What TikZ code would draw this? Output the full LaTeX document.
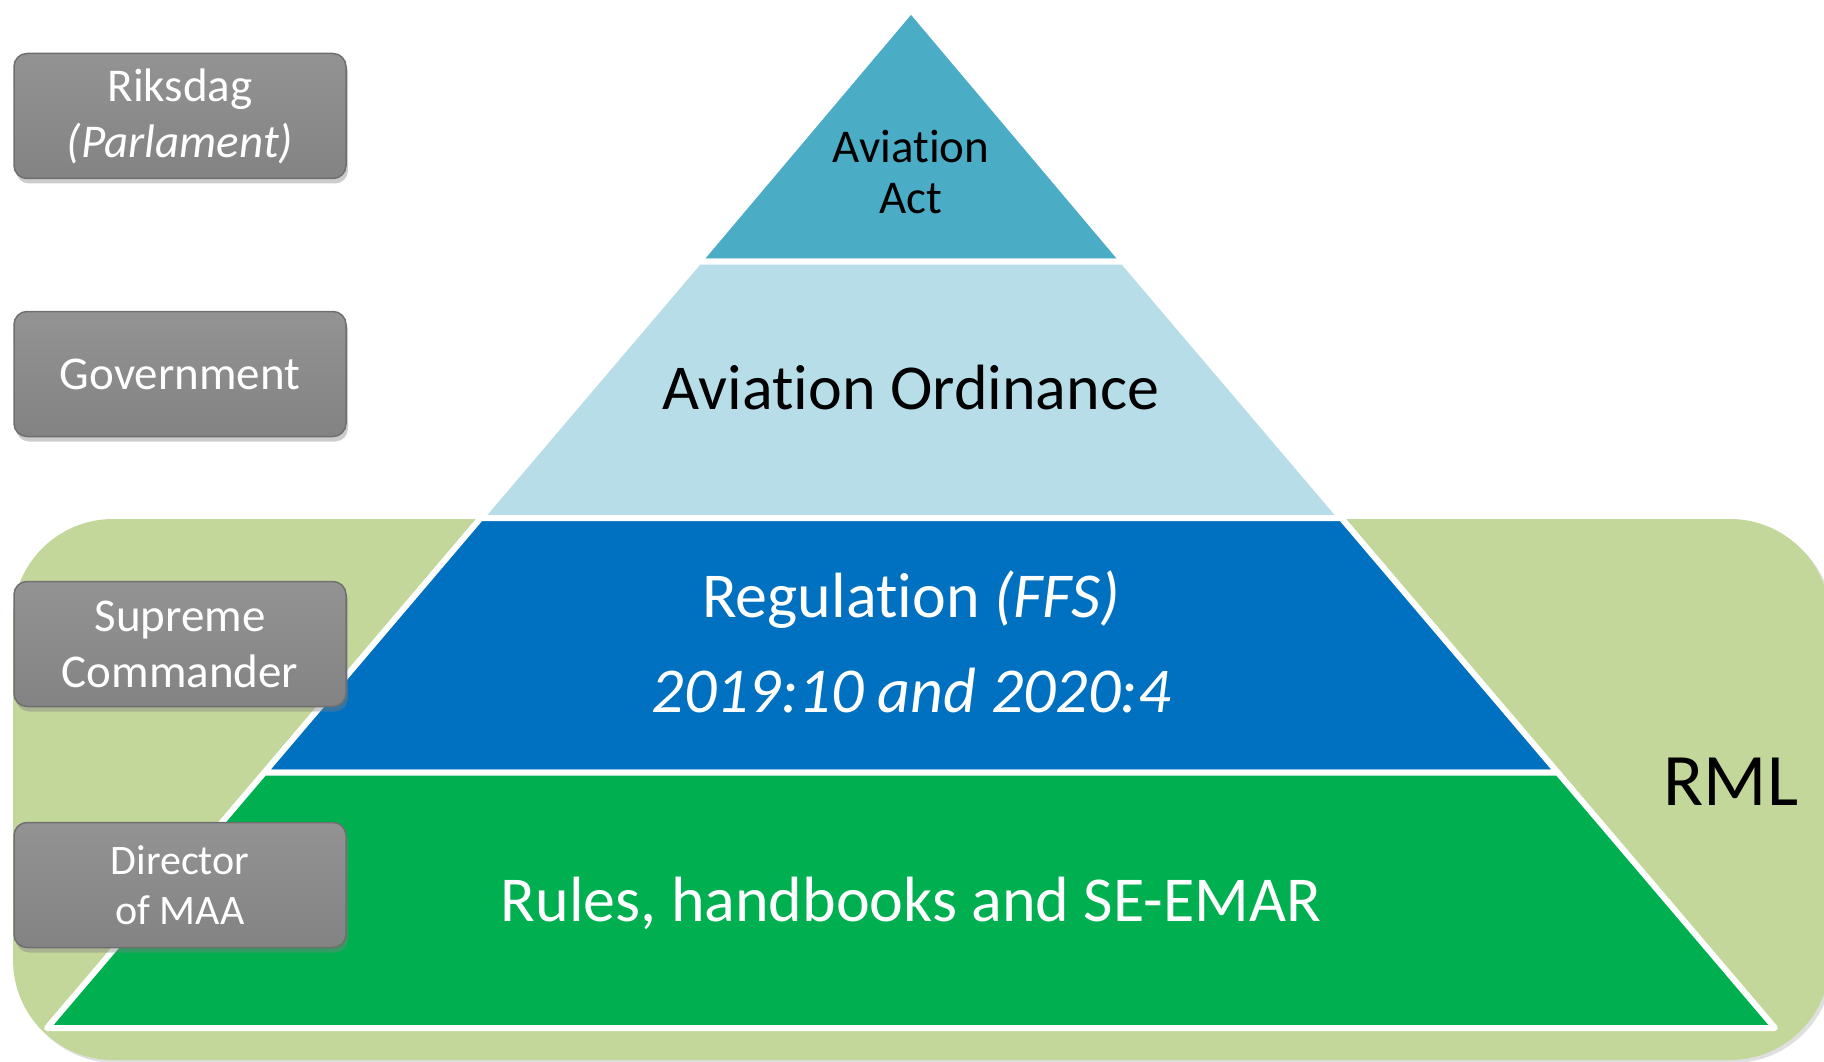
\documentclass[tikz,border=0pt]{standalone}
\usepackage{fontspec}
\setmainfont[Ligatures={NoCommon}]{Carlito}
\usetikzlibrary{shadows}
\definecolor{toptri}{HTML}{4BACC6}
\definecolor{ordin}{HTML}{B7DEE8}
\definecolor{regblue}{HTML}{0070C0}
\definecolor{rulgreen}{HTML}{00B050}
\definecolor{bggreen}{HTML}{C4D79B}
\definecolor{boxtop}{HTML}{939393}
\definecolor{boxbot}{HTML}{838383}
\definecolor{boxedge}{HTML}{6F6F6F}
\newcommand\fsz[2]{\fontsize{#1}{#2}\selectfont}
\begin{document}
\begin{tikzpicture}[x=1pt,y=-1pt,
  band/.style={draw=white, line width=6pt, line join=round},
  graybox/.style={rounded corners=13pt, draw=boxedge, line width=1.5pt,
    top color=boxtop, bottom color=boxbot, minimum width=332pt,
    minimum height=125pt, inner sep=0pt, align=center, text=white,
    drop shadow={opacity=0.4, shadow xshift=2pt, shadow yshift=-5pt}},
  levtext/.style={anchor=base, inner sep=0pt, font=\fsz{64}{77}},
]
\useasboundingbox (0,0) rectangle (1824,1062);
% RML background
\path[fill=bggreen, rounded corners=100pt,
  drop shadow={opacity=0.25, shadow xshift=3pt, shadow yshift=-3pt}]
  (13,519) rectangle (1830,1060);
% pyramid bands
\path[band, fill=toptri] (911,10) -- (1123.2,261.5) -- (698.8,261.5) -- cycle;
\path[band, fill=ordin] (698.8,261.5) -- (1123.2,261.5) -- (1341.3,518) -- (480.7,518) -- cycle;
\path[band, fill=regblue] (480.7,518) -- (1341.3,518) -- (1557.7,772.5) -- (264.3,772.5) -- cycle;
\path[band, fill=rulgreen] (264.3,772.5) -- (1557.7,772.5) -- (1775,1028) -- (47,1028) -- cycle;
% pyramid texts
\node[align=center, inner sep=0pt, font=\fsz{47}{51}] (act) at (911,172) {Aviation\\Act};
\node[levtext] (ord) at (911,409) {Aviation Ordinance};
\node[levtext, text=white] (reg) at (911,617) {Regulation \textit{(FFS)}};
\node[levtext, text=white] (regnum) at (911,712) {\textit{2019:10 and 2020:4}};
\node[levtext, text=white] (rules) at (911,921) {Rules, handbooks and SE-EMAR};
\node[anchor=base, inner sep=0pt, font=\fsz{74}{88}] (rml) at (1731,805) {RML};
% authority boxes
\node[graybox, font=\fsz{47}{56}] (riks) at (180,116) {Riksdag\\\textit{(Parlament)}};
\node[graybox, font=\fsz{47}{56}] (gov) at (180,374) {Government};
\node[graybox, font=\fsz{47}{56}] (sup) at (180,644) {Supreme\\Commander};
\node[graybox, font=\fsz{42}{50}] (dir) at (180,885) {Director\\of MAA};
\end{tikzpicture}
\end{document}
